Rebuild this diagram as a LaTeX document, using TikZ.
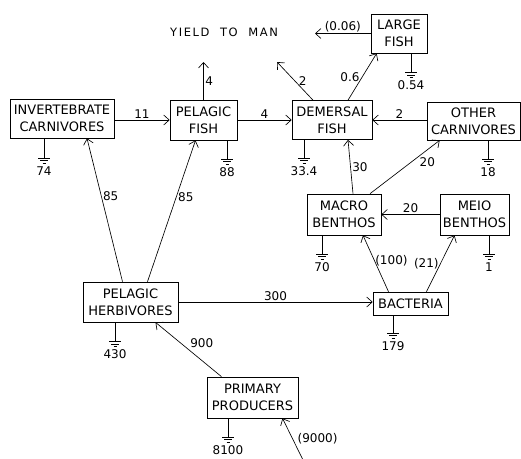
\documentclass[tikz,border=0pt]{standalone}
\usepackage{fontspec}
\setmainfont{DejaVu Sans}
\newfontfamily\spacedfont[LetterSpace=14]{DejaVu Sans}
\usepackage{tikz}
\usetikzlibrary{shapes,arrows,arrows.meta,positioning,calc}

\tikzset{earth/.pic={\draw (-6,0) -- (6,0) (-4,2.5) -- (4,2.5) (-1.5,5) -- (1.5,5);}}

\begin{document}
\begin{tikzpicture}[x=1pt, y=-1pt, line width=0.65pt,
    >={Straight Barb[length=5.5pt,width=10pt]},
    pool/.style={rectangle, draw, align=center, inner sep=1.5pt, font=\fontsize{13}{17}\selectfont},
    flow/.style={font=\fontsize{12}{13}\selectfont, inner sep=1.5pt},
    value/.style={font=\fontsize{12}{13}\selectfont, inner sep=0pt}]
    \useasboundingbox (0,0) rectangle (521,458);

    % Nodes
    \node (yield) at (224,32) {\spacedfont\fontsize{11.5}{13}\selectfont YIELD\ \ TO\ \ MAN};
    \node (lf) [pool, minimum width=56pt, minimum height=39pt] at (399,33.5) {LARGE\\FISH};
    \node (ic) [pool, minimum width=104pt, minimum height=39pt] at (62,118.5) {INVERTEBRATE\\CARNIVORES};
    \node (pf) [pool, minimum width=67pt, minimum height=40pt] at (203.5,120) {PELAGIC\\FISH};
    \node (df) [pool, minimum width=80pt, minimum height=39pt] at (332,120) {DEMERSAL\\FISH};
    \node (oc) [pool, minimum width=93pt, minimum height=38pt] at (473.5,121) {OTHER\\CARNIVORES};
    \node (mb) [pool, minimum width=74pt, minimum height=41pt] at (344,214.5) {MACRO\\BENTHOS};
    \node (meb) [pool, minimum width=69pt, minimum height=41pt] at (474.5,214.5) {MEIO\\BENTHOS};
    \node (ba) [pool, minimum width=75pt, minimum height=23pt] at (410.5,303.5) {BACTERIA};
    \node (ph) [pool, minimum width=95pt, minimum height=40pt] at (130.5,302) {PELAGIC\\HERBIVORES};
    \node (pp) [pool, minimum width=91pt, minimum height=41pt] at (252.5,397.5) {PRIMARY\\PRODUCERS};

    % Free ends
    \coordinate (y-lf) at (315,33.5);
    \coordinate (y-df) at (277,62);
    \coordinate (y-pf) at (203.5,62);
    \coordinate (src) at (303,460);

    % Losses
    \coordinate (g-ic) at (44,158);
    \draw (ic.south -| g-ic) -- (g-ic) pic {earth};
    \node (v-ic) [value, below=8pt of g-ic] {74};
    \coordinate (g-pf) at (227,159);
    \draw (pf.south -| g-pf) -- (g-pf) pic {earth};
    \node (v-pf) [value, below=8pt of g-pf] {88};
    \coordinate (g-df) at (304,158);
    \draw (df.south -| g-df) -- (g-df) pic {earth};
    \node (v-df) [value, below=8pt of g-df] {33.4};
    \coordinate (g-oc) at (488,159);
    \draw (oc.south -| g-oc) -- (g-oc) pic {earth};
    \node (v-oc) [value, below=8pt of g-oc] {18};
    \coordinate (g-lf) at (411,72.5);
    \draw (lf.south -| g-lf) -- (g-lf) pic {earth};
    \node (v-lf) [value, below=8pt of g-lf] {0.54};
    \coordinate (g-mb) at (322,254);
    \draw (mb.south -| g-mb) -- (g-mb) pic {earth};
    \node (v-mb) [value, below=8pt of g-mb] {70};
    \coordinate (g-meb) at (489,254);
    \draw (meb.south -| g-meb) -- (g-meb) pic {earth};
    \node (v-meb) [value, below=8pt of g-meb] {1};
    \coordinate (g-ba) at (393,333);
    \draw (ba.south -| g-ba) -- (g-ba) pic {earth};
    \node (v-ba) [value, below=8pt of g-ba] {179};
    \coordinate (g-ph) at (115,341.5);
    \draw (ph.south -| g-ph) -- (g-ph) pic {earth};
    \node (v-ph) [value, below=8pt of g-ph] {430};
    \coordinate (g-pp) at (228,437);
    \draw (pp.south -| g-pp) -- (g-pp) pic {earth};
    \node (v-pp) [value, below=8pt of g-pp] {8100};

    % Arrows
    \draw [->] (lf.west) -- (y-lf) node [flow, midway, above] {(0.06)};
    \draw [->] ([xshift=-19pt]df.north) -- (y-df) node [flow, midway, right=2pt] {2};
    \draw [->] ([xshift=16pt]df.north) -- ([xshift=6pt]lf.south west) node [flow, midway, left=1pt] {0.6};
    \draw [->] (pf.north) -- (y-pf) node [flow, midway, right] {4};
    \draw [->] (ic.east |- pf.west) -- (pf.west) node [flow, midway, above] {11};
    \draw [->] (pf.east) -- (df.west) node [flow, midway, above] {4};
    \draw [->] (oc.west |- df.east) -- (df.east) node [flow, midway, above] {2};
    \draw [->] ([xshift=9pt]mb.north) -- ([xshift=16pt]df.south) node [flow, midway, right] {30};
    \draw [->] ([xshift=26pt]mb.north) -- ([xshift=13pt]oc.south west) node [flow, pos=0.6, right=6pt] {20};
    \draw [->] (meb.west) -- (mb.east) node [flow, midway, above] {20};
    \draw [->] ([xshift=-22pt]ba.north) -- ([xshift=19pt]mb.south) node [flow, pos=0.55, right=-1pt] {(100)};
    \draw [->] ([xshift=16pt]ba.north) -- ([xshift=-20pt]meb.south) node [flow, midway, left] {(21)};
    \draw [->] ([xshift=-8pt]ph.north) -- ([xshift=25pt]ic.south) node [flow, pos=0.6, right] {85};
    \draw [->] ([xshift=17pt]ph.north) -- ([xshift=-8pt]pf.south) node [flow, pos=0.6, right] {85};
    \draw [->] (ph.east) -- (ba.west |- ph.east) node [flow, midway, above] {300};
    \draw [->] ([xshift=-31pt]pp.north) -- ([xshift=25pt]ph.south) node [flow, midway, above right] {900};
    \draw [->] (src) -- ([xshift=30pt]pp.south) node [flow, midway, right=3pt] {(9000)};
\end{tikzpicture}
\end{document}
